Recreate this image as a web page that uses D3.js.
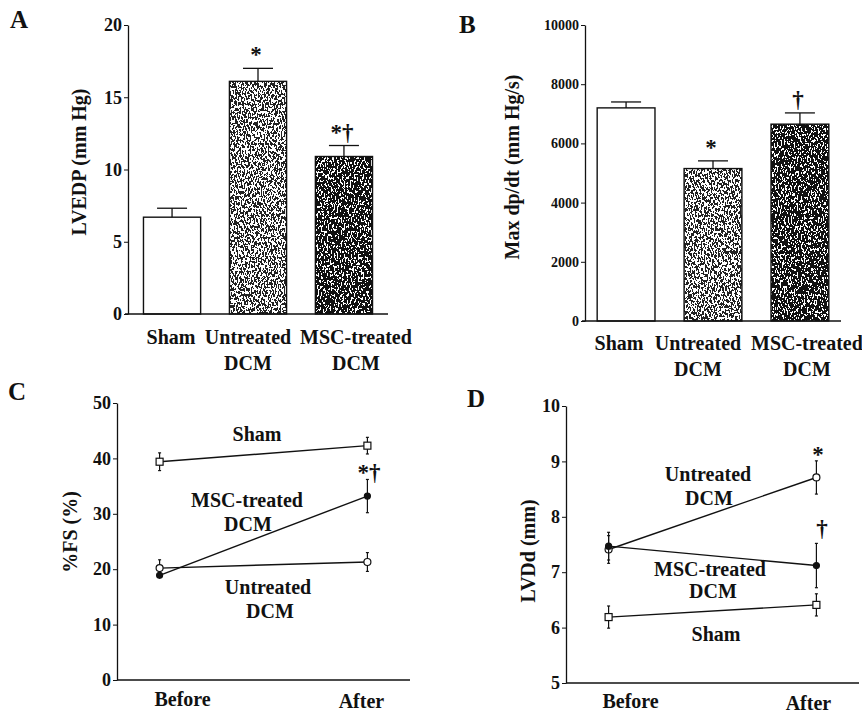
<!DOCTYPE html>
<html>
<head>
<meta charset="utf-8">
<script src="https://cdn.jsdelivr.net/npm/d3@7"></script>
<style>
  body { margin: 0; background: #fff; }
  svg text { font-family: "Liberation Serif", "Times New Roman", serif; fill: #111; }
</style>
</head>
<body>
<svg id="fig" width="862" height="716"></svg>
<script>
// groups and values
const barGroups = ['Sham', 'Untreated DCM', 'MSC-treated DCM'];
const lvedpMean = [6.7, 16.1, 10.9];
const lvedpSem = [0.62, 0.9, 0.76];
const lvedpTicks = [0, 5, 10, 15, 20];
const lvedpMarks = ['', '*', '*†'];

const dpdtMean = [7200, 5150, 6650];
const dpdtSem = [200, 260, 380];
const dpdtTicks = [0, 2000, 4000, 6000, 8000, 10000];
const dpdtMarks = ['', '*', '†'];

const timePoints = ['Before', 'After'];

const fsSham = [39.4, 42.3];
const fsShamSem = [1.6, 1.5];
const fsUntreated = [20.2, 21.3];
const fsUntreatedSem = [1.5, 1.7];
const fsMsc = [18.9, 33.2];
const fsMscSem = [0.3, 3.0];
const fsTicks = [0, 10, 20, 30, 40, 50];

const lvddSham = [6.19, 6.41];
const lvddShamSem = [0.2, 0.2];
const lvddUntreated = [7.41, 8.71];
const lvddUntreatedSem = [0.25, 0.3];
const lvddMsc = [7.47, 7.12];
const lvddMscSem = [0.25, 0.4];
const lvddTicks = [5, 6, 7, 8, 9, 10];

const svg = d3.select('#fig');

// speckled textures for the scanned bars
const defs = svg.append('defs');
const speckle = (id, cut, freq) => {
  const f = defs.append('filter').attr('id', id)
    .attr('x', 0).attr('y', 0).attr('width', 1).attr('height', 1);
  f.append('feTurbulence').attr('type', 'fractalNoise')
    .attr('baseFrequency', freq).attr('numOctaves', 2).attr('seed', 7);
  f.append('feColorMatrix').attr('type', 'matrix')
    .attr('values', '0 0 0 0 1  0 0 0 0 1  0 0 0 0 1  1 0 0 0 0');
  // step the noise into black / white specks
  const table = d3.range(40).map(i => (i / 40 >= cut ? 1 : 0)).join(' ');
  f.append('feComponentTransfer').append('feFuncA')
    .attr('type', 'discrete').attr('tableValues', table);
  f.append('feComposite').attr('operator', 'in').attr('in2', 'SourceGraphic');
};
speckle('speckLight', 0.5, '0.7 0.35');
speckle('speckDark', 0.575, '0.7 0.35');
const barStyle = [
  { fill: '#fff', speck: null },
  { fill: '#222', speck: 'speckLight' },
  { fill: '#111', speck: 'speckDark' }
];

const panelLetter = (x, y, t) => {
  svg.append('text').attr('x', x).attr('y', y)
    .attr('font-size', 25).attr('font-weight', 'bold').text(t);
};

const yTitle = (cx, cy, t) => {
  svg.append('text')
    .attr('transform', `translate(${cx},${cy}) rotate(-90)`)
    .attr('text-anchor', 'middle').attr('dy', '0.35em')
    .attr('font-size', 20).attr('font-weight', 'bold').text(t);
};

const drawYAxis = (g, x, y, ticks, fs) => {
  const ax = g.append('g').attr('transform', `translate(${x},0)`)
    .call(d3.axisLeft(y).tickValues(ticks).tickFormat(d3.format('d'))
      .tickSize(4).tickSizeOuter(0).tickPadding(2));
  ax.select('.domain').attr('stroke', '#111').attr('stroke-width', 1.3);
  ax.selectAll('.tick line').attr('stroke', '#111');
  ax.selectAll('.tick text').attr('font-size', fs).attr('font-weight', 'bold')
    .attr('font-family', '"Liberation Serif", serif').attr('fill', '#111');
};

function barPanel(o) {
  const g = svg.append('g');
  const y = d3.scaleLinear().domain([o.ticks[0], o.ticks[o.ticks.length - 1]]).range(o.yRange);
  const x = d3.scaleBand().domain(barGroups).range(o.xRange)
    .paddingInner(0.335).paddingOuter(o.outer);

  barGroups.forEach((k, i) => {
    const bx = x(k), bw = x.bandwidth(), top = y(o.mean[i]), h = y(o.ticks[0]) - top;
    g.append('rect').attr('x', bx).attr('y', top).attr('width', bw).attr('height', h)
      .attr('fill', barStyle[i].fill);
    if (barStyle[i].speck) {
      g.append('rect').attr('x', bx).attr('y', top).attr('width', bw).attr('height', h)
        .attr('fill', '#000').attr('filter', `url(#${barStyle[i].speck})`);
    }
    g.append('rect').attr('x', bx).attr('y', top).attr('width', bw).attr('height', h)
      .attr('fill', 'none').attr('stroke', '#111').attr('stroke-width', 1.4);

    const cx = bx + bw / 2, et = y(o.mean[i] + o.sem[i]);
    g.append('line').attr('x1', cx).attr('x2', cx).attr('y1', top).attr('y2', et)
      .attr('stroke', '#111').attr('stroke-width', 1.3);
    g.append('line').attr('x1', cx - 15).attr('x2', cx + 15).attr('y1', et).attr('y2', et)
      .attr('stroke', '#111').attr('stroke-width', 1.3);

    if (o.marks[i]) {
      g.append('text').attr('x', cx - 2).attr('y', et - 6).attr('text-anchor', 'middle')
        .attr('font-size', 23).attr('font-weight', 'bold').text(o.marks[i]);
    }

    const words = k.split(' ');
    const lines = words.length > 1 ? [words[0], words.slice(1).join(' ')] : words;
    lines.forEach((w, j) => {
      g.append('text').attr('x', cx + o.labelShift[i]).attr('y', o.labelY + j * 26)
        .attr('text-anchor', 'middle').attr('font-size', 20).attr('font-weight', 'bold').text(w);
    });
  });

  g.append('line').attr('x1', o.xRange[0] - 3).attr('x2', o.xRange[1])
    .attr('y1', y(o.ticks[0])).attr('y2', y(o.ticks[0]))
    .attr('stroke', '#111').attr('stroke-width', 1.4);
  drawYAxis(g, o.xRange[0], y, o.ticks, o.tickFont);
}

function linePanel(o) {
  const g = svg.append('g');
  const y = d3.scaleLinear().domain([o.ticks[0], o.ticks[o.ticks.length - 1]]).range(o.yRange);
  const x = d3.scalePoint().domain(timePoints).range(o.xRange).padding(0.205);
  const line = d3.line().x((d, i) => x(timePoints[i])).y(d => y(d));

  o.series.forEach(s => {
    g.append('path').datum(s.v).attr('d', line)
      .attr('fill', 'none').attr('stroke', '#111').attr('stroke-width', 1.4);
  });
  o.series.forEach(s => {
    s.v.forEach((v, i) => {
      const cx = x(timePoints[i]);
      const y1 = y(v + s.e[i]), y2 = y(v - s.e[i]);
      g.append('line').attr('x1', cx).attr('x2', cx).attr('y1', y1).attr('y2', y2)
        .attr('stroke', '#111').attr('stroke-width', 1.2);
      [y1, y2].forEach(yy => g.append('line').attr('x1', cx - 1.5).attr('x2', cx + 1.5)
        .attr('y1', yy).attr('y2', yy).attr('stroke', '#111').attr('stroke-width', 1.2));
      if (s.m === 'square') {
        g.append('rect').attr('x', cx - 3.5).attr('y', y(v) - 3.5).attr('width', 7).attr('height', 7)
          .attr('fill', '#fff').attr('stroke', '#111').attr('stroke-width', 1.2);
      } else {
        g.append('circle').attr('cx', cx).attr('cy', y(v)).attr('r', s.m === 'filled' ? 3 : 3.5)
          .attr('fill', s.m === 'filled' ? '#111' : '#fff').attr('stroke', '#111').attr('stroke-width', 1.2);
      }
    });
  });

  o.labels.forEach(l => {
    g.append('text').attr('x', l[0]).attr('y', l[1]).attr('text-anchor', 'middle')
      .attr('font-size', l[3] || 20).attr('font-weight', 'bold').text(l[2]);
  });

  timePoints.forEach((t, i) => {
    g.append('text').attr('x', x(t) + o.timeShift[i]).attr('y', o.timeY + i * 2)
      .attr('text-anchor', 'middle').attr('font-size', 20).attr('font-weight', 'bold').text(t);
  });

  g.append('line').attr('x1', o.xRange[0]).attr('x2', o.xRange[1])
    .attr('y1', y(o.ticks[0])).attr('y2', y(o.ticks[0]))
    .attr('stroke', '#111').attr('stroke-width', 1.4);
  drawYAxis(g, o.xRange[0], y, o.ticks, o.tickFont);
}

// A
panelLetter(10, 28, 'A');
yTitle(79, 162, 'LVEDP (mm Hg)');
barPanel({
  mean: lvedpMean, sem: lvedpSem, ticks: lvedpTicks, marks: lvedpMarks,
  yRange: [314, 25], xRange: [128, 388], outer: 0.18,
  labelY: 344, labelShift: [-1, -10, 12], tickFont: 18
});

// B
panelLetter(459, 33, 'B');
yTitle(512, 167, 'Max dp/dt (mm Hg/s)');
barPanel({
  mean: dpdtMean, sem: dpdtSem, ticks: dpdtTicks, marks: dpdtMarks,
  yRange: [321, 25], xRange: [585, 841], outer: 0.14,
  labelY: 350, labelShift: [-7, -15, 7], tickFont: 14
});

// C
panelLetter(8, 400, 'C');
yTitle(70, 532, '%FS (%)');
linePanel({
  ticks: fsTicks, yRange: [680, 403], xRange: [117, 410], tickFont: 18,
  series: [
    { v: fsSham, e: fsShamSem, m: 'square' },
    { v: fsUntreated, e: fsUntreatedSem, m: 'open' },
    { v: fsMsc, e: fsMscSem, m: 'filled' }
  ],
  labels: [
    [257, 441, 'Sham'], [247, 507, 'MSC-treated'], [248, 531, 'DCM'],
    [268, 594, 'Untreated'], [270, 618, 'DCM'], [369, 480, '*†', 23]
  ],
  timeY: 706, timeShift: [23, -6]
});

// D
panelLetter(467, 407, 'D');
yTitle(528, 551, 'LVDd (mm)');
linePanel({
  ticks: lvddTicks, yRange: [683, 406], xRange: [566, 859], tickFont: 18,
  series: [
    { v: lvddSham, e: lvddShamSem, m: 'square' },
    { v: lvddUntreated, e: lvddUntreatedSem, m: 'open' },
    { v: lvddMsc, e: lvddMscSem, m: 'filled' }
  ],
  labels: [
    [708, 481, 'Untreated'], [709, 505, 'DCM'], [710, 576, 'MSC-treated'],
    [713, 598, 'DCM'], [716, 641, 'Sham'], [818, 462, '*', 23], [822, 536, '†', 23]
  ],
  timeY: 708, timeShift: [22, -8]
});
</script>
</body>
</html>
